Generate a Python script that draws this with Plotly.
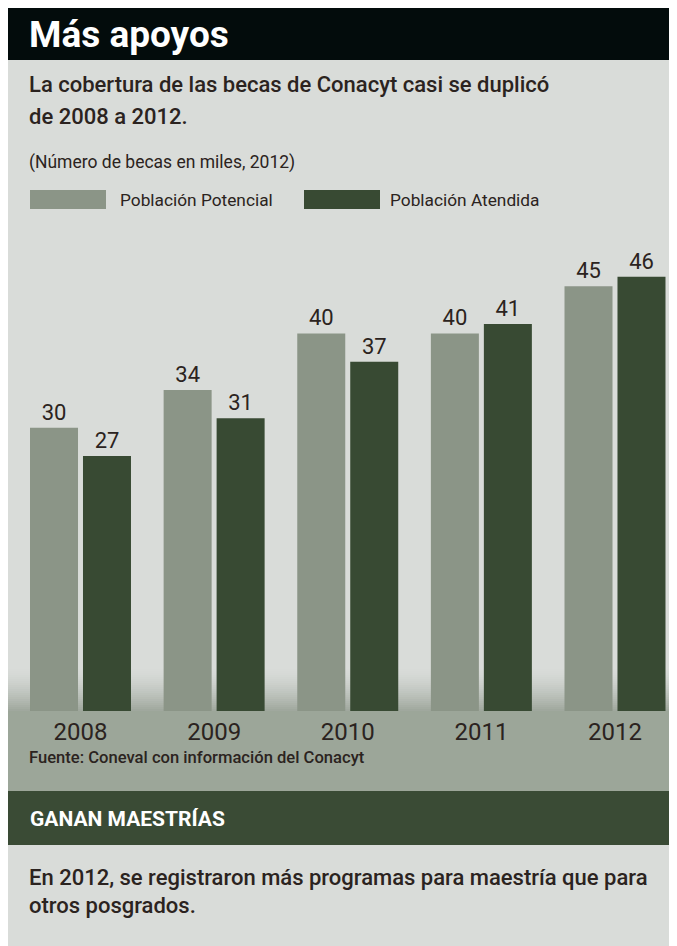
import plotly.graph_objects as go

# ---- data ----
years = ["2008", "2009", "2010", "2011", "2012"]
potencial = [30, 34, 40, 40, 45]
atendida = [27, 31, 37, 41, 46]
series_names = ["Población Potencial", "Población Atendida"]

title = "Más apoyos"
subtitle_lines = ["La cobertura de las becas de Conacyt casi se duplicó", "de 2008 a 2012."]
units = "(Número de becas en miles, 2012)"
source = "Fuente: Coneval con información del Conacyt"
section = "GANAN MAESTRÍAS"
section_text = ["En 2012, se registraron más programas para maestría que para", "otros posgrados."]

# ---- style ----
OFF = 8                      # page body margin
W, H = 677 - OFF, 946 - OFF  # figure size
PLOT_TOP, PLOT_BOT = 60 - OFF, 711 - OFF
PX_PER_UNIT = 9.44
C_LIGHT = "#8b9587"
C_DARK = "#384a33"
C_TEXT = "#2b2320"
C_PANEL = "#d9dcd9"
C_BAND = "#9ca699"
C_HEADER = "#030c0c"
FONT = "Roboto, 'Open Sans', sans-serif"


def px(x):
    return (x - OFF) / W


def py(y):
    return (PLOT_BOT - (y - OFF)) / (PLOT_BOT - PLOT_TOP)


fig = go.Figure()
for vals, name, col in ((potencial, series_names[0], C_LIGHT), (atendida, series_names[1], C_DARK)):
    fig.add_trace(go.Bar(x=years, y=vals, name=name, marker=dict(color=col, line=dict(width=0)),
                         text=vals, textposition="outside", cliponaxis=False,
                         textfont=dict(size=22, color=C_TEXT, family=FONT)))

shapes = []


def rect(x0, y0, x1, y1, color, layer="below"):
    shapes.append(dict(type="rect", xref="paper", yref="paper", x0=px(x0), x1=px(x1), y0=py(y1), y1=py(y0),
                       fillcolor=color, line=dict(width=0), layer=layer))


rect(OFF, OFF, 677, 60, C_HEADER)
rect(OFF, 60, 677, 711, C_PANEL)
# gradient at the bottom of the plot panel
c0 = (0xd9, 0xdc, 0xd9)
c1 = (0xa0, 0xa8, 0x9e)
steps = 21
for i in range(steps):
    t = ((i + 1) / steps) ** 1.5
    col = "rgb(%d,%d,%d)" % tuple(round(a + (b - a) * t) for a, b in zip(c0, c1))
    rect(OFF, 669 + i * 2, 677, 669 + (i + 1) * 2 + 0.5, col)
rect(OFF, 711, 677, 791, C_BAND)
rect(OFF, 791, 677, 845, "#3a4b35")
rect(OFF, 845, 677, 946, C_PANEL)

# legend swatches
rect(30, 190, 106, 209, C_LIGHT)
rect(304, 190, 380, 209, C_DARK)

ann = []


def text(x, y, s, size, color=C_TEXT, weight="normal"):
    ann.append(dict(xref="paper", yref="paper", x=px(x), y=py(y), text=s, showarrow=False,
                    xanchor="left", yanchor="middle", align="left",
                    font=dict(size=size, color=color, family=FONT, weight=weight)))


text(27, 34, title, 37, "white", "bold")
text(27, 85, subtitle_lines[0], 22, weight=500)
text(27, 117, subtitle_lines[1], 22, weight=500)
text(27, 162, units, 17.5)
text(118, 200, series_names[0], 17.3)
text(388, 200, series_names[1], 17.3)
text(27, 757, source, 16.6, weight=500)
text(28, 819, section, 21, "white", "bold")
text(27, 877, section_text[0], 22, weight=500)
text(27, 905, section_text[1], 22, weight=500)

fig.update_layout(
    width=W, height=H,
    margin=dict(l=0, r=0, t=PLOT_TOP, b=H - PLOT_BOT, pad=0),
    paper_bgcolor="white", plot_bgcolor="rgba(0,0,0,0)",
    barmode="group", bargap=0.207, bargroupgap=0.094,
    showlegend=False,
    shapes=shapes, annotations=ann,
    xaxis=dict(range=[-72.5 / 133.625, -72.5 / 133.625 + W / 133.625], showgrid=False, zeroline=False,
               showline=False, ticks="",
               tickfont=dict(size=24, color=C_TEXT, family=FONT), ticklabelstandoff=4, fixedrange=True),
    yaxis=dict(range=[0, (PLOT_BOT - PLOT_TOP) / PX_PER_UNIT], visible=False, fixedrange=True),
)

fig.write_html("out.html")
